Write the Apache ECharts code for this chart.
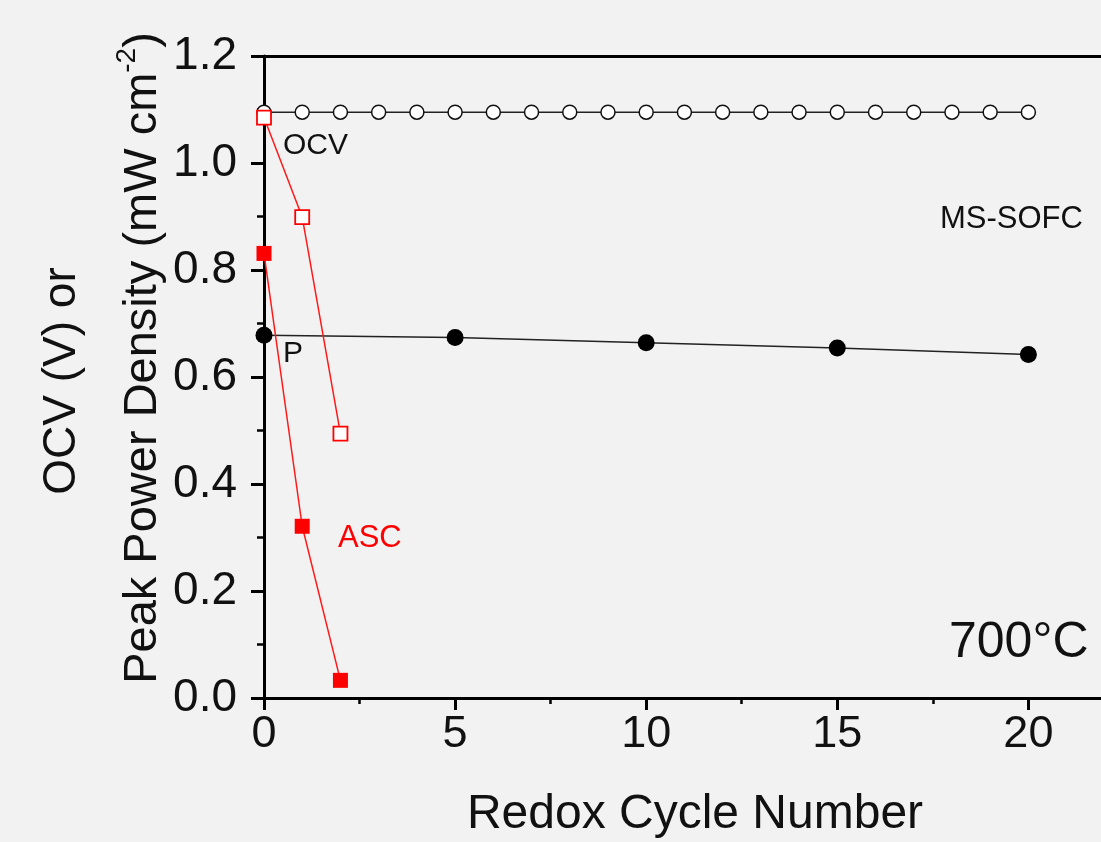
<!DOCTYPE html>
<html><head><meta charset="utf-8">
<script src="https://cdn.jsdelivr.net/npm/echarts@6/dist/echarts.min.js"></script>
<style>html,body{margin:0;padding:0;background:#f2f2f2;}#c{width:1101px;height:842px;}</style>
</head><body><div id="c"></div>
<script>
// Data
const ocvCycles = [0,1,2,3,4,5,6,7,8,9,10,11,12,13,14,15,16,17,18,19,20];
const ocvMS = [1.095,1.095,1.095,1.095,1.095,1.095,1.095,1.095,1.095,1.095,1.095,1.095,1.095,1.095,1.095,1.095,1.095,1.095,1.095,1.095,1.095];
const pCycles = [0,5,10,15,20];
const pMS = [0.678,0.674,0.664,0.654,0.642];
const ascCycles = [0,1,2];
const ocvASC = [1.085,0.899,0.494];
const pASC = [0.831,0.321,0.033];
const yTicks = [0,0.2,0.4,0.6,0.8,1.0,1.2];
const xTicks = [0,5,10,15,20];
const xMinorTicks = [2.5,7.5,12.5,17.5];

const FONT = 'Liberation Sans, Arial, sans-serif';
const pairs = (xs, ys) => xs.map((x, i) => [x, ys[i]]);
const X_MAX = 21.9;

const chart = echarts.init(document.getElementById('c'), null, {renderer: 'canvas'});
chart.setOption({
  backgroundColor: '#f2f2f2',
  animation: false,
  grid: {left: 264, top: 56, bottom: 144, right: 0, containLabel: false, outerBoundsMode: 'none'},
  xAxis: [{
    type: 'value', min: 0, max: X_MAX, interval: 5, position: 'bottom',
    axisLine: {lineStyle: {color: '#000', width: 3}},
    axisTick: {inside: false, length: 12, customValues: xTicks, lineStyle: {color: '#000', width: 3}},
    axisLabel: {margin: 14, fontSize: 45, color: '#111', fontFamily: FONT, customValues: xTicks},
    splitLine: {show: false}
  }, {
    type: 'value', min: 0, max: X_MAX, position: 'top',
    axisLine: {onZero: false, lineStyle: {color: '#000', width: 3}},
    axisTick: {show: false}, axisLabel: {show: false}, splitLine: {show: false}
  }, {
    type: 'value', min: 0, max: X_MAX, position: 'bottom',
    axisLine: {show: false, onZero: false},
    axisTick: {inside: false, length: 6, customValues: xMinorTicks, lineStyle: {color: '#000', width: 2.5}},
    axisLabel: {show: false}, splitLine: {show: false}
  }],
  yAxis: [{
    type: 'value', min: 0, max: 1.2, interval: 0.2,
    axisLine: {show: true, lineStyle: {color: '#000', width: 3}},
    axisTick: {show: true, inside: false, length: 13, lineStyle: {color: '#000', width: 3}},
    minorTick: {show: true, splitNumber: 2, length: 7, lineStyle: {color: '#000', width: 2.5}},
    axisLabel: {margin: 27, fontSize: 46, color: '#111', fontFamily: FONT,
      formatter: v => yTicks.some(t => Math.abs(t - v) < 1e-9) ? v.toFixed(1) : ''},
    splitLine: {show: false}
  }],
  series: [
    {type: 'line', name: 'OCV MS-SOFC', data: pairs(ocvCycles, ocvMS), z: 2,
      symbol: 'circle', symbolSize: 14,
      itemStyle: {color: '#fff', borderColor: '#111', borderWidth: 1.5},
      lineStyle: {color: '#222', width: 1.5}},
    {type: 'line', name: 'P MS-SOFC', data: pairs(pCycles, pMS), z: 3,
      symbol: 'circle', symbolSize: 17,
      itemStyle: {color: '#000', borderColor: '#000', borderWidth: 0},
      lineStyle: {color: '#222', width: 1.5}},
    {type: 'line', name: 'OCV ASC', data: pairs(ascCycles, ocvASC), z: 4,
      symbol: 'rect', symbolSize: 14,
      itemStyle: {color: '#fff', borderColor: '#ff0000', borderWidth: 1.8},
      lineStyle: {color: '#ff1a1a', width: 1.5}},
    {type: 'line', name: 'P ASC', data: pairs(ascCycles, pASC), z: 5,
      symbol: 'rect', symbolSize: 15,
      itemStyle: {color: '#ff0000', borderWidth: 0},
      lineStyle: {color: '#ff1a1a', width: 1.5}}
  ],
  graphic: [
    {type: 'text', left: 283, top: 131, z: 10, style: {text: 'OCV', font: '30px ' + FONT, fill: '#111'}},
    {type: 'text', left: 283, top: 339, z: 10, style: {text: 'P', font: '30px ' + FONT, fill: '#111'}},
    {type: 'text', left: 940, top: 204, z: 10, style: {text: 'MS-SOFC', font: '31px ' + FONT, fill: '#111'}},
    {type: 'text', left: 338, top: 523, z: 10, style: {text: 'ASC', font: '31px ' + FONT, fill: '#ff0000'}},
    {type: 'text', left: 949, top: 618, z: 10, style: {text: '700°C', font: '50px ' + FONT, fill: '#111'}},
    {type: 'text', x: 695, y: 815, z: 10, style: {text: 'Redox Cycle Number', font: '48px ' + FONT, fill: '#111', align: 'center', verticalAlign: 'middle'}},
    {type: 'text', x: 62, y: 381, rotation: Math.PI / 2, z: 10, style: {text: 'OCV (V) or', font: '46px ' + FONT, fill: '#111', align: 'center', verticalAlign: 'middle'}},
    {type: 'text', x: 140, y: 358, rotation: Math.PI / 2, z: 10, style: {
      text: '{a|Peak Power Density (mW cm}{s|-2}{a|)}',
      align: 'center', verticalAlign: 'middle', fill: '#111',
      rich: {
        a: {fontSize: 47, fontFamily: FONT, fill: '#111', lineHeight: 54, verticalAlign: 'bottom'},
        s: {fontSize: 28, fontFamily: FONT, fill: '#111', lineHeight: 54, verticalAlign: 'top'}
      }
    }}
  ]
});
</script></body></html>
